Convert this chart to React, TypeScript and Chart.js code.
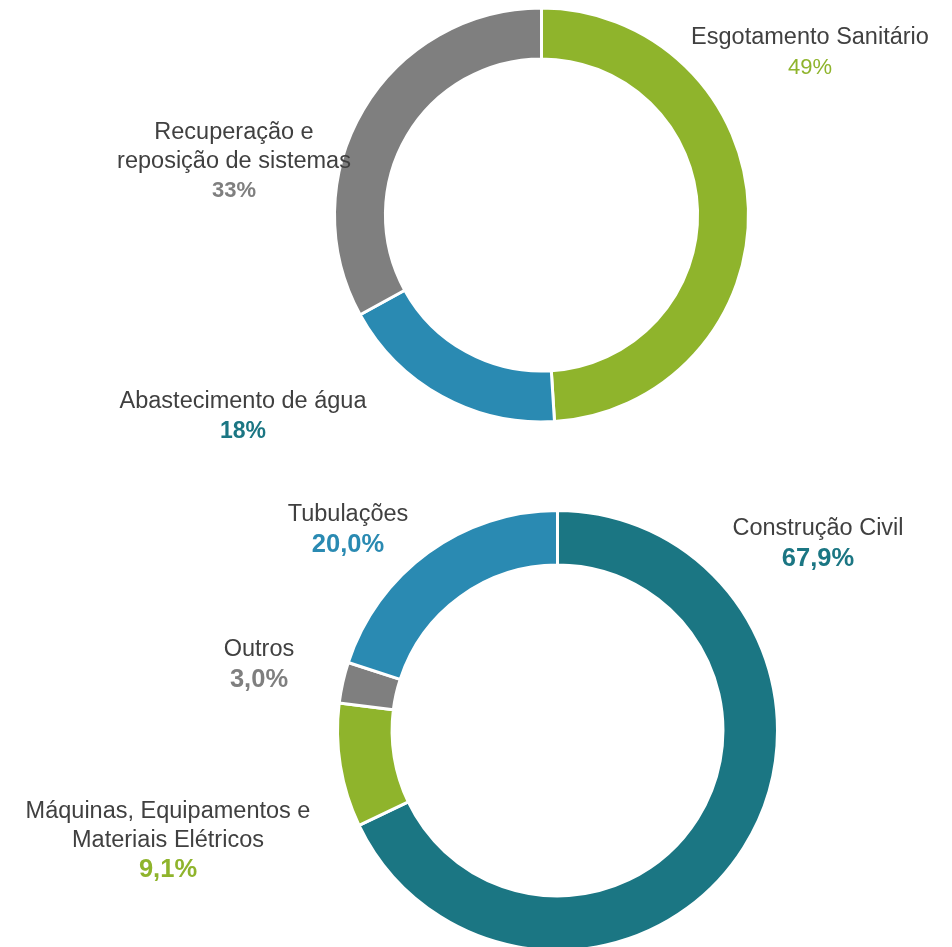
import React, { useEffect, useRef } from "react";
import { Chart, registerables } from "chart.js";

Chart.register(...registerables);

// ---- Data ----
const topCategories = ["Esgotamento Sanitário", "Abastecimento de água", "Recuperação e reposição de sistemas"];
const topValues = [49, 18, 33];
const topPctLabels = ["49%", "18%", "33%"];

const bottomCategories = ["Construção Civil", "Máquinas, Equipamentos e Materiais Elétricos", "Outros", "Tubulações"];
const bottomValues = [67.9, 9.1, 3.0, 20.0];
const bottomPctLabels = ["67,9%", "9,1%", "3,0%", "20,0%"];

// ---- Styles ----
const GREEN = "#8fb42c";
const BLUE = "#2a8ab2";
const GRAY = "#7f7f7f";
const TEAL = "#1b7683";
const TEXT = "#404040";

const topColors = [GREEN, BLUE, GRAY];
const bottomColors = [TEAL, GREEN, GRAY, BLUE];

// label layout: text lines, anchor x, first line y, pct colour, pct weight, pct size
const topLabelLayout = [
  { lines: ["Esgotamento Sanitário"], x: 810, y: 38, color: GREEN, bold: false, pctSize: 22 },
  { lines: ["Abastecimento de água"], x: 243, y: 402, color: TEAL, bold: true, pctSize: 23 },
  { lines: ["Recuperação e", "reposição de sistemas"], x: 234, y: 133, color: GRAY, bold: true, pctSize: 22 },
];
const bottomLabelLayout = [
  { lines: ["Construção Civil"], x: 818, y: 29, color: TEAL, bold: true, pctSize: 25.5 },
  { lines: ["Máquinas, Equipamentos e", "Materiais Elétricos"], x: 168, y: 312, color: GREEN, bold: true, pctSize: 25.5 },
  { lines: ["Outros"], x: 259, y: 150, color: GRAY, bold: true, pctSize: 25.5 },
  { lines: ["Tubulações"], x: 348, y: 15, color: BLUE, bold: true, pctSize: 25.5 },
];

const FONT = "'Liberation Sans', Arial, sans-serif";
const FONT_SIZE = 23.5;
const LINE_H = 28.5;

function makeLabelPlugin(layout: any[], pcts: string[]) {
  return {
    id: "sliceLabels",
    afterDraw(chart: any) {
      const ctx = chart.ctx;
      ctx.save();
      ctx.textAlign = "center";
      ctx.textBaseline = "middle";
      layout.forEach((l, i) => {
        let y = l.y;
        ctx.fillStyle = TEXT;
        ctx.font = `${FONT_SIZE}px ${FONT}`;
        l.lines.forEach((t: string) => {
          ctx.fillText(t, l.x, y);
          y += LINE_H;
        });
        ctx.fillStyle = l.color;
        ctx.font = `${l.bold ? "bold " : ""}${l.pctSize}px ${FONT}`;
        ctx.fillText(pcts[i], l.x, y + 1);
      });
      ctx.restore();
    },
  };
}

function Donut(props: {
  labels: string[];
  values: number[];
  colors: string[];
  radius: number;
  cutout: string;
  padding: any;
  width: number;
  height: number;
  top: number;
  layout: any[];
  pcts: string[];
}) {
  const ref = useRef<HTMLCanvasElement>(null);
  useEffect(() => {
    if (!ref.current) return;
    const chart = new Chart(ref.current, {
      type: "doughnut",
      data: {
        labels: props.labels,
        datasets: [
          {
            data: props.values,
            backgroundColor: props.colors,
            borderColor: "#ffffff",
            borderWidth: 3,
            clip: false as any,
          },
        ],
      },
      options: {
        animation: false,
        responsive: false,
        radius: props.radius,
        cutout: props.cutout,
        layout: { padding: props.padding },
        plugins: { legend: { display: false }, tooltip: { enabled: false } },
      } as any,
      plugins: [makeLabelPlugin(props.layout, props.pcts)],
    });
    return () => chart.destroy();
  }, []);
  return (
    <canvas
      ref={ref}
      width={props.width}
      height={props.height}
      style={{ position: "absolute", left: 0, top: props.top, width: props.width, height: props.height }}
    />
  );
}

export default function App() {
  return (
    <div style={{ position: "absolute", left: 0, top: 0, width: 952, height: 947, background: "#fff", overflow: "hidden" }}>
      <Donut
        labels={topCategories}
        values={topValues}
        colors={topColors}
        radius={207}
        cutout="75.4%"
        padding={{ left: 131, top: 0, right: 0, bottom: 40 }}
        width={952}
        height={470}
        top={0}
        layout={topLabelLayout}
        pcts={topPctLabels}
      />
      <Donut
        labels={bottomCategories}
        values={bottomValues}
        colors={bottomColors}
        radius={220}
        cutout="75.2%"
        padding={{ left: 163, top: 14, right: 0, bottom: 0 }}
        width={952}
        height={447}
        top={500}
        layout={bottomLabelLayout}
        pcts={bottomPctLabels}
      />
    </div>
  );
}
